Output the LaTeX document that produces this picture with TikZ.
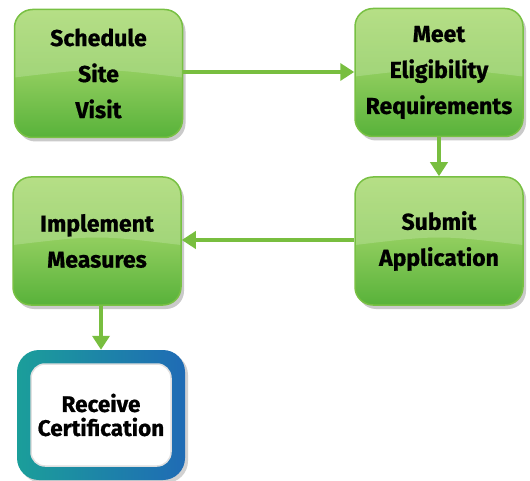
\documentclass[tikz,border=0pt]{standalone}
\usepackage{fontspec}
\setmainfont{Fira Sans}[BoldFeatures={FakeBold=0.8}]
\usetikzlibrary{arrows.meta,shadows}
\definecolor{gtop}{HTML}{A6D86C}
\definecolor{gbot}{HTML}{58B23A}
\definecolor{gedge}{HTML}{78C043}
\definecolor{garrow}{HTML}{78BE3F}
\definecolor{teal1}{HTML}{1B9E9A}
\definecolor{blue1}{HTML}{1F6BB5}
\tikzset{
  greenbox/.style={rounded corners=18pt, minimum width=168pt, minimum height=128pt,
    top color=gtop, bottom color=gbot, middle color=gtop!70!gbot, draw=gedge, line width=1.5pt,
    drop shadow={shadow xshift=3pt, shadow yshift=-4pt, opacity=0.35, fill=black!60},
    path picture={\fill[white,opacity=0.18,rounded corners=0pt]
      (path picture bounding box.north west) -- (path picture bounding box.north east)
      -- ([yshift=-4pt]path picture bounding box.east) .. controls ([yshift=6pt]path picture bounding box.center) .. ([yshift=-4pt]path picture bounding box.west) -- cycle;},
    align=center, font=\fontsize{23}{36}\selectfont\bfseries, text=black, inner sep=0pt},
  flow/.style={draw=garrow, line width=4pt, -{Triangle[length=14pt,width=17pt]}},
}
\begin{document}
\begin{tikzpicture}[x=1pt,y=-1pt]
\useasboundingbox (0,0) rectangle (530,481);
\node[greenbox] (sched) at (98.5,73.5) {Schedule\\Site\\Visit};
\node[greenbox] (meet) at (439,72.5) {Meet\\Eligibility\\Requirements};
\node[greenbox] (submit) at (439,241) {Submit\\Application};
\node[greenbox] (impl) at (97,241) {Implement\\Measures};
\node[rounded corners=22pt, minimum width=168pt, minimum height=130pt,
  left color=teal1, right color=blue1,
  drop shadow={shadow xshift=3pt, shadow yshift=-3pt, opacity=0.3, fill=black!60}] (cert) at (101,415) {};
\node[rounded corners=14pt, minimum width=140pt, minimum height=102pt, fill=white, draw=black!12, line width=1.5pt,
  align=center, font=\fontsize{22.5}{24}\selectfont\bfseries, inner sep=0pt] (certin) at (cert.center) {Receive\\Certification};
\draw[flow] (sched.east |- 0,72) -- (meet.west |- 0,72);
\draw[flow] (meet.south) -- (submit.north);
\draw[flow] (submit.west |- 0,240) -- (impl.east |- 0,240);
\draw[flow] (impl.south -| cert.north) -- (cert.north);
\end{tikzpicture}
\end{document}
